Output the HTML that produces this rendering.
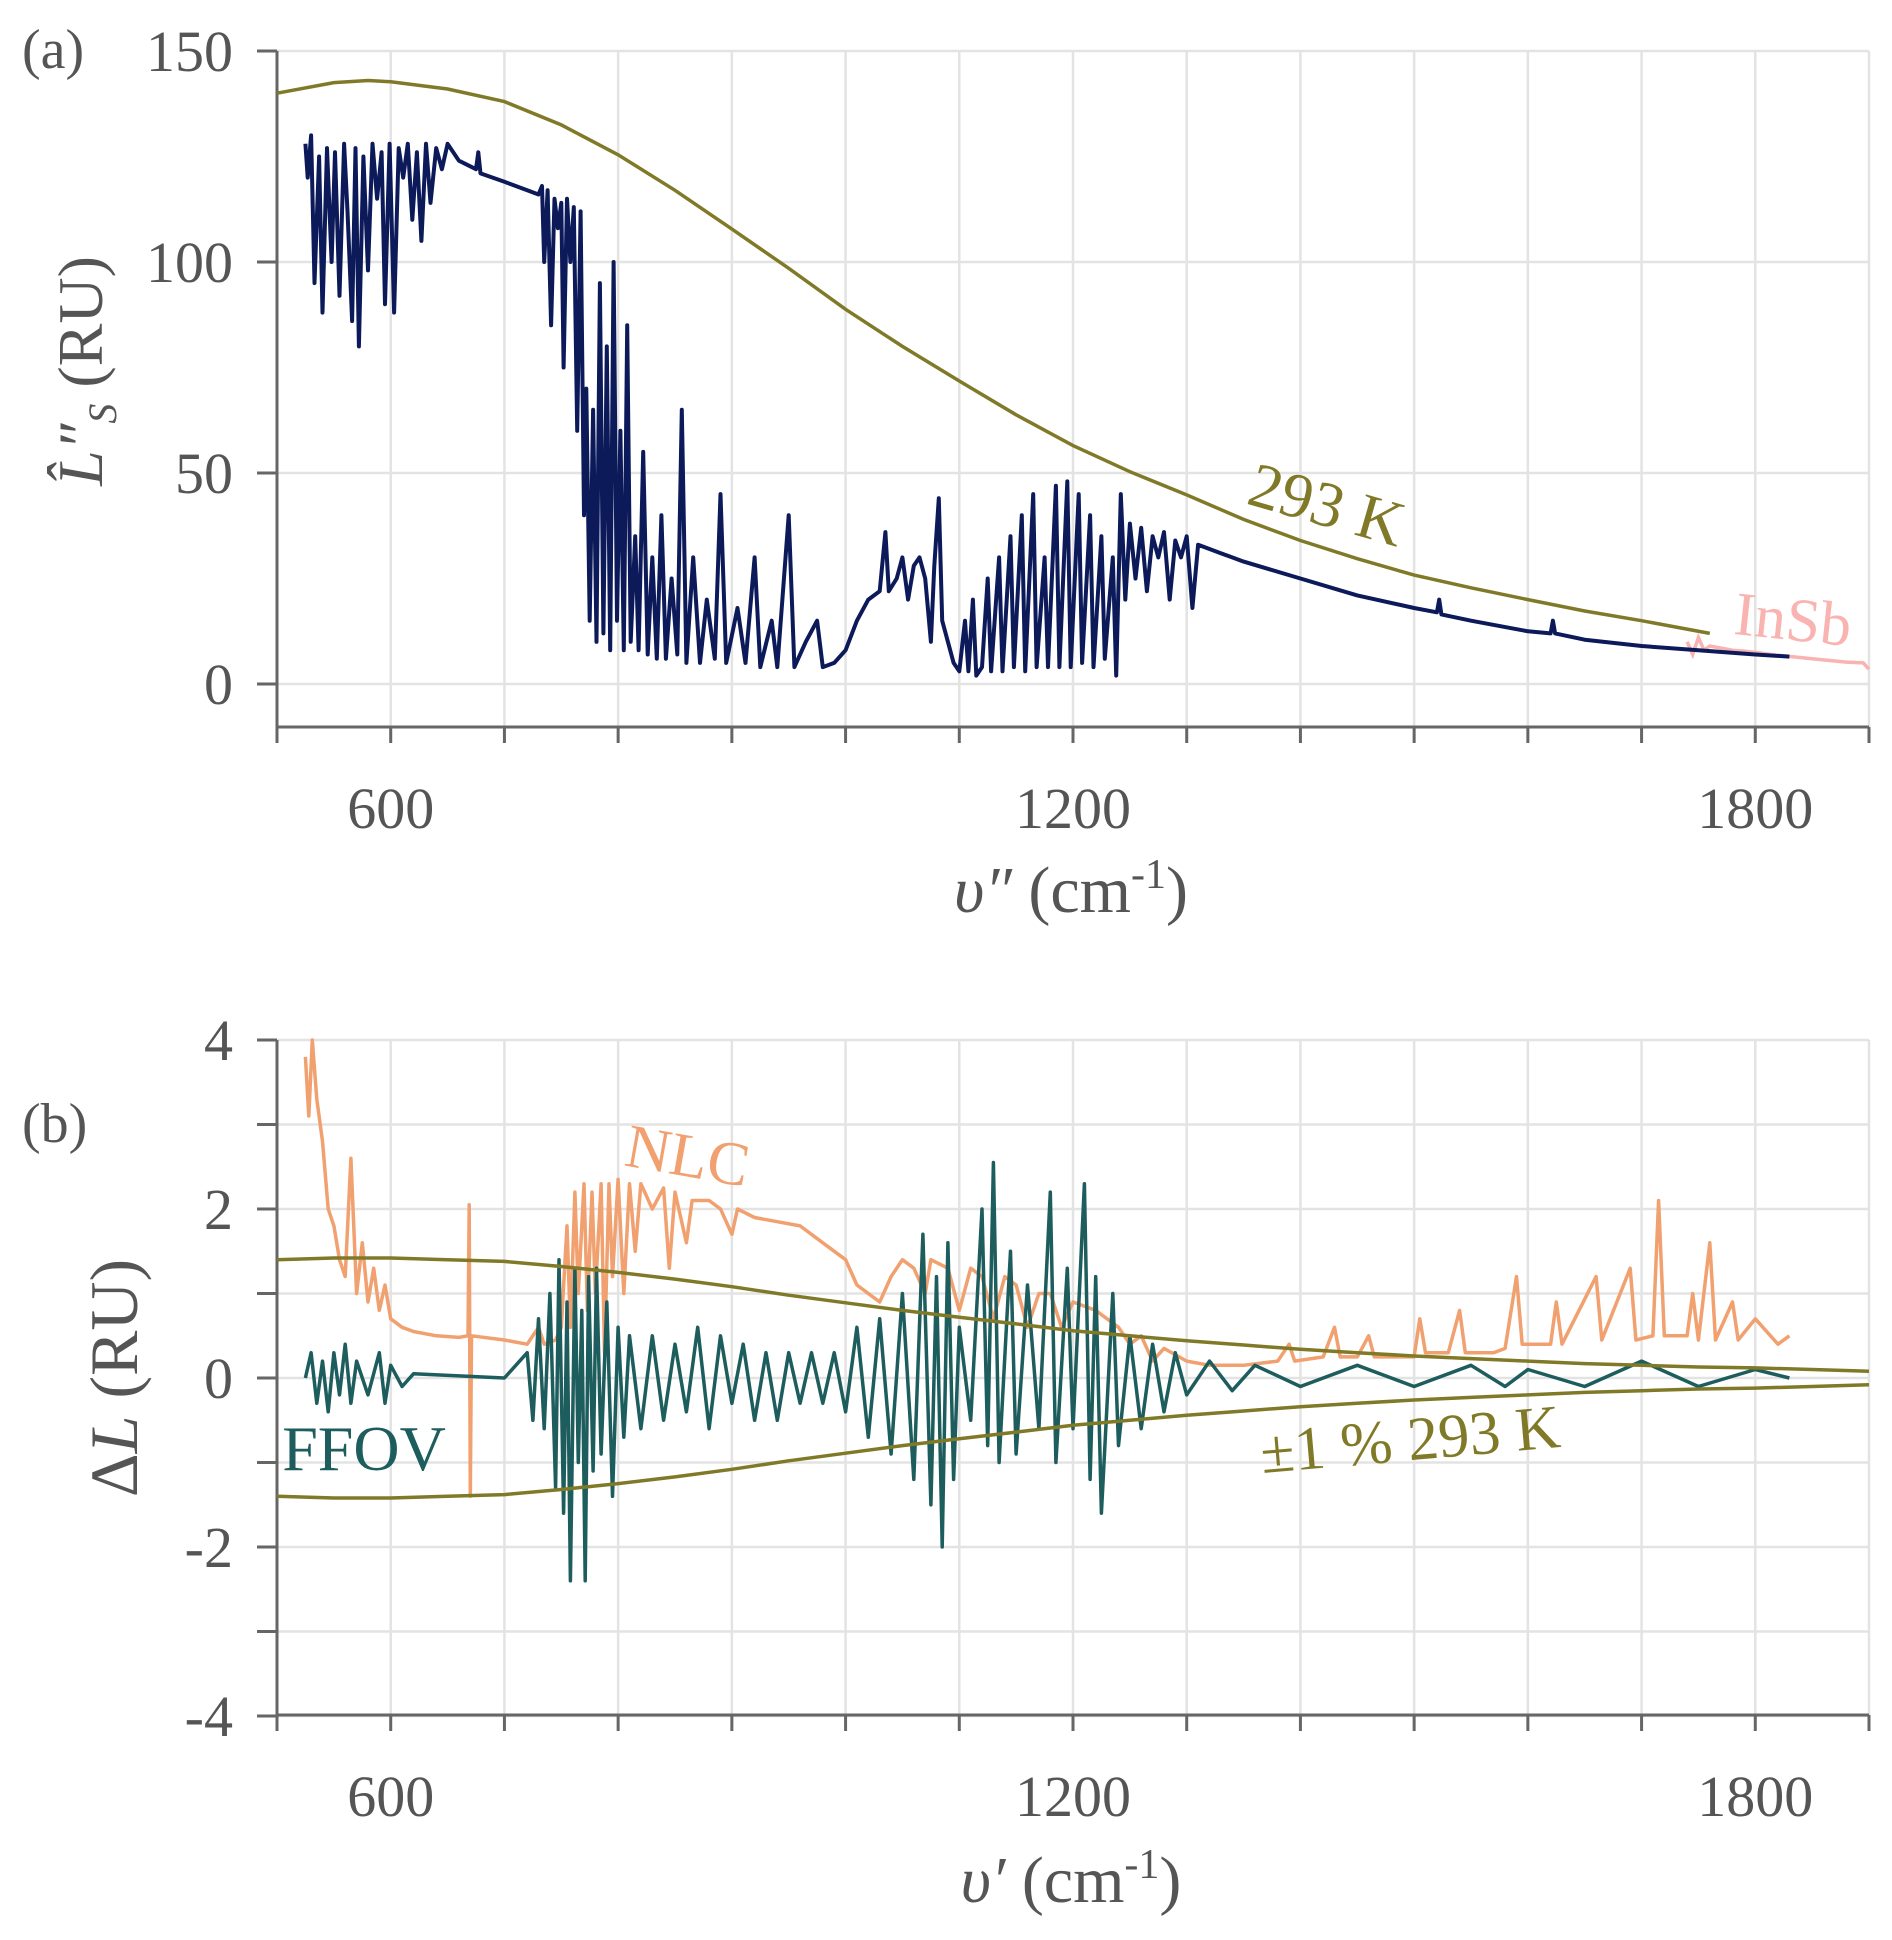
<!DOCTYPE html>
<html><head><meta charset="utf-8">
<style>
html,body{margin:0;padding:0;background:#fff;}
svg{display:block;}
text{font-family:"Liberation Serif","DejaVu Serif",serif;}
</style></head>
<body>
<svg id="fig" width="1892" height="1940" viewBox="0 0 1892 1940" xmlns="http://www.w3.org/2000/svg">
<g id="pa"></g>
<g id="pb"></g>
</svg>
<script>
// ---- data ----
const xTicks = [600, 1200, 1800];
const xGrid = [500,600,700,800,900,1000,1100,1200,1300,1400,1500,1600,1700,1800,1900];
const aYTicks = [0, 50, 100, 150];
const bYTicks = [-4, -2, 0, 2, 4];
const bYGrid = [-4,-3,-2,-1,0,1,2,3,4];

const planckX = [500,550,580,600,650,700,750,800,850,900,950,1000,1050,1100,1150,1200,1250,1300,1350,1400,1450,1500,1550,1600,1650,1700,1760];
const planckY = [140,142.5,143,142.7,141,138,132.5,125.4,117,107.8,98.5,88.8,80,71.8,63.8,56.5,50.3,44.8,39,34,29.7,25.8,22.8,20,17.3,15,12];

const bandX = [500,550,600,650,700,750,800,850,900,950,1000,1050,1100,1150,1200,1250,1300,1350,1400,1450,1500,1550,1600,1650,1700,1750,1800,1850,1900];
const bandY = [1.40,1.42,1.42,1.40,1.38,1.32,1.25,1.17,1.08,0.98,0.89,0.80,0.72,0.64,0.56,0.50,0.44,0.39,0.34,0.30,0.26,0.23,0.20,0.17,0.15,0.13,0.12,0.10,0.08];

const navyX = [525,527,530,533,537,540,544,548,551,555,559,562,566,569,572,576,580,584,588,592,595,599,603,607,611,615,619,623,627,631,635,640,645,650,660,675,677,679,700,720,730,733,735,738,741,744,747,750,752,755,758,761,764,767,770,772,775,778,781,784,787,790,793,796,799,802,805,808,811,815,818,822,826,830,834,838,842,847,852,856,860,866,872,878,885,890,895,905,912,920,925,935,940,950,955,965,975,980,990,1000,1010,1020,1030,1035,1038,1045,1050,1055,1060,1065,1070,1075,1078,1082,1085,1090,1095,1100,1105,1108,1112,1115,1120,1125,1128,1135,1138,1145,1148,1155,1158,1165,1168,1175,1178,1185,1188,1195,1198,1205,1208,1215,1218,1225,1228,1235,1238,1242,1246,1250,1255,1260,1265,1270,1275,1280,1285,1290,1295,1300,1305,1310,1320,1330,1340,1350,1400,1450,1500,1520,1522,1524,1550,1600,1620,1622,1624,1650,1700,1750,1800,1830];
const navyY = [128,120,130,95,125,88,127,100,126,92,128,112,86,127,80,125,98,128,115,126,90,128,88,127,120,128,110,126,105,128,114,127,122,128,124,122,126,121,119,117,116,118,100,117,85,115,108,114,75,115,100,113,60,112,40,70,15,65,10,95,12,80,8,100,15,60,8,85,10,35,8,55,7,30,6,40,6,25,7,65,5,30,5,20,6,45,5,18,5,30,4,15,4,40,4,10,15,4,5,8,15,20,22,36,22,25,30,20,28,30,25,10,28,44,15,10,5,3,15,3,20,2,4,25,3,30,3,35,4,40,3,45,4,30,4,47,4,48,4,45,5,40,4,35,6,30,2,45,20,38,25,37,22,35,30,36,20,34,30,35,18,33,32,31,30,29,25,21,18,17,20,16.5,15,12.5,12,15,12,10.5,9,8,7,6.5];

const insbX = [1740,1745,1750,1755,1760,1770,1780,1790,1800,1820,1850,1880,1895,1900];
const insbY = [10,7,11,8,9,8.5,8,7.8,7.5,6.8,6,5.2,5,3.5];

const nlcX = [525,528,531,535,540,545,550,555,560,565,570,575,580,585,590,595,600,610,620,640,660,668,669,670,671,700,720,730,735,745,750,755,758,762,765,770,773,777,780,785,788,792,795,800,805,810,815,820,830,840,845,850,860,865,880,890,900,905,920,940,960,980,1000,1010,1020,1030,1040,1050,1060,1070,1075,1090,1100,1110,1120,1130,1140,1150,1160,1170,1180,1190,1200,1220,1240,1250,1260,1270,1280,1300,1320,1350,1380,1390,1395,1420,1430,1435,1450,1460,1465,1500,1505,1510,1530,1540,1545,1570,1580,1590,1595,1620,1625,1630,1660,1665,1690,1695,1710,1715,1720,1740,1745,1750,1760,1765,1780,1785,1800,1820,1830];
const nlcY = [3.8,3.1,4.0,3.3,2.8,2.0,1.8,1.4,1.2,2.6,1.0,1.6,0.9,1.3,0.8,1.1,0.7,0.6,0.55,0.5,0.48,0.5,2.05,-1.4,0.5,0.45,0.4,0.6,0.4,0.45,0.6,1.8,0.6,2.2,1.0,2.3,0.8,2.2,1.0,2.3,0.3,2.3,1.2,2.35,1.0,2.3,1.5,2.3,2.0,2.25,1.3,2.2,1.6,2.1,2.1,2.0,1.7,2.0,1.9,1.85,1.8,1.6,1.4,1.1,1.0,0.9,1.2,1.4,1.3,1.0,1.4,1.3,0.8,1.3,1.2,0.7,1.2,1.1,0.6,1.0,1.0,0.6,0.9,0.8,0.6,0.4,0.5,0.2,0.35,0.2,0.15,0.15,0.2,0.4,0.2,0.25,0.6,0.25,0.25,0.5,0.25,0.25,0.7,0.3,0.3,0.8,0.3,0.3,0.35,1.2,0.4,0.4,0.9,0.4,1.2,0.45,1.3,0.45,0.5,2.1,0.5,0.5,1.0,0.45,1.6,0.45,0.9,0.45,0.7,0.4,0.5];

const ffovX = [525,530,535,540,545,550,555,560,565,570,580,590,595,600,610,620,700,720,725,730,735,740,745,748,752,755,758,762,765,768,771,774,778,781,785,790,795,800,805,810,820,830,840,850,860,870,880,890,900,910,920,930,940,950,960,970,980,990,1000,1010,1020,1030,1040,1050,1060,1068,1075,1080,1085,1090,1095,1100,1110,1120,1125,1130,1135,1145,1150,1160,1170,1180,1185,1195,1200,1210,1215,1220,1225,1235,1240,1250,1260,1270,1280,1290,1300,1320,1340,1360,1400,1450,1500,1550,1580,1600,1650,1700,1750,1800,1830];
const ffovY = [0,0.3,-0.3,0.2,-0.4,0.3,-0.2,0.4,-0.3,0.2,-0.2,0.3,-0.3,0.15,-0.1,0.05,0,0.3,-0.5,0.7,-0.6,1.0,-1.3,1.4,-1.6,0.9,-2.4,1.3,-1.0,0.8,-2.4,1.2,-1.1,1.3,-0.9,0.9,-1.4,0.6,-0.7,0.5,-0.6,0.5,-0.5,0.4,-0.4,0.6,-0.6,0.5,-0.3,0.4,-0.5,0.3,-0.5,0.3,-0.3,0.3,-0.3,0.3,-0.4,0.6,-0.7,0.7,-0.9,1.0,-1.2,1.7,-1.5,1.2,-2.0,1.6,-1.2,0.6,-0.5,2.0,-0.8,2.55,-1.0,1.5,-0.9,1.1,-0.6,2.2,-1.0,1.3,-0.6,2.3,-1.2,1.2,-1.6,1.0,-0.8,0.5,-0.6,0.4,-0.4,0.3,-0.2,0.2,-0.15,0.15,-0.1,0.15,-0.1,0.15,-0.1,0.1,-0.1,0.2,-0.1,0.1,0.0];

// ---- axes ----
const NS = "http://www.w3.org/2000/svg";
const X0 = 277, X1 = 1869, XMIN = 500, XMAX = 1900;
function xs(v){ return X0 + (v - XMIN) / (XMAX - XMIN) * (X1 - X0); }
function yA(v){ return 684 - v * (684 - 51) / 150; }
function yB(v){ return 1378 - v * (1378 - 1040) / 4; }

function mk(parent, tag, attrs, name, text){
  const el = document.createElementNS(NS, tag);
  for (const k in attrs) el.setAttribute(k, attrs[k]);
  
  
  if (text !== undefined) el.textContent = text;
  parent.appendChild(el);
  return el;
}
function path(xa, ya, yf){
  let d = '';
  for (let i = 0; i < xa.length; i++) d += (i ? 'L' : 'M') + xs(xa[i]).toFixed(1) + ',' + yf(ya[i]).toFixed(1);
  return d;
}

function panel(g, yf, yTop, yBot, ticks, grid, minor, labelFmt){
  grid.forEach(v => mk(g, 'line', {x1:X0, x2:X1, y1:yf(v), y2:yf(v), stroke:'#e3e3e3', 'stroke-width':2.5}, 'y-gridline'));
  xGrid.forEach(v => mk(g, 'line', {x1:xs(v), x2:xs(v), y1:yTop, y2:yBot, stroke:'#e3e3e3', 'stroke-width':2.5}, 'x-gridline'));
  mk(g, 'line', {x1:X0, x2:X0, y1:yTop, y2:yBot, stroke:'#666', 'stroke-width':3}, 'y-axis-line');
  mk(g, 'line', {x1:X0, x2:X1, y1:yBot, y2:yBot, stroke:'#666', 'stroke-width':3}, 'x-axis-line');
  xGrid.forEach(v => mk(g, 'line', {x1:xs(v), x2:xs(v), y1:yBot, y2:yBot+16, stroke:'#666', 'stroke-width':3}, 'x-tick'));
  minor.forEach(v => mk(g, 'line', {x1:X0-20, x2:X0, y1:yf(v), y2:yf(v), stroke:'#666', 'stroke-width':3}, 'y-tick'));
  xTicks.forEach(v => mk(g, 'text', {x:xs(v), y:yBot+101, 'text-anchor':'middle', 'font-size':58, fill:'#555'}, 'x-tick-label', String(v)));
  ticks.forEach(v => mk(g, 'text', {x:X0-44, y:yf(v)+20, 'text-anchor':'end', 'font-size':58, fill:'#555'}, 'y-tick-label', labelFmt(v)));
}

const pa = document.getElementById('pa');
const pb = document.getElementById('pb');
panel(pa, yA, 51, 727, aYTicks, aYTicks, [0,50,100,150], v => String(v));
panel(pb, yB, 1040, 1715, bYTicks, bYGrid, bYGrid, v => String(v));

// ---- panel a series ----
mk(pa, 'path', {d:path(insbX, insbY, yA), fill:'none', stroke:'#f9b3b0', 'stroke-width':3.5}, 'insb-spectrum');
mk(pa, 'path', {d:path(navyX, navyY, yA), fill:'none', stroke:'#0c1a5a', 'stroke-width':4, 'stroke-linejoin':'round'}, 'measured-spectrum');
mk(pa, 'path', {d:path(planckX, planckY, yA), fill:'none', stroke:'#807a28', 'stroke-width':3.5}, 'planck-293k-curve');

// ---- panel b series ----
mk(pb, 'path', {d:path(nlcX, nlcY, yB), fill:'none', stroke:'#f1a06f', 'stroke-width':3.5, 'stroke-linejoin':'round'}, 'nlc-series');
mk(pb, 'path', {d:path(ffovX, ffovY, yB), fill:'none', stroke:'#1e5d5d', 'stroke-width':3.5, 'stroke-linejoin':'round'}, 'ffov-series');
mk(pb, 'path', {d:path(bandX, bandY, yB), fill:'none', stroke:'#807a28', 'stroke-width':3.5}, 'upper-band');
mk(pb, 'path', {d:path(bandX, bandY.map(v => -v), yB), fill:'none', stroke:'#807a28', 'stroke-width':3.5}, 'lower-band');

// ---- labels ----
const fig = document.getElementById('fig');
mk(fig, 'text', {x:22, y:68, 'font-size':56, fill:'#555'}, 'panel-a-label', '(a)');
mk(fig, 'text', {x:22, y:1142, 'font-size':56, fill:'#555'}, 'panel-b-label', '(b)');

let t = mk(fig, 'text', {x:1071, y:912, 'text-anchor':'middle', 'font-size':66, fill:'#555'}, 'x-axis-title-a');
t.innerHTML = '<tspan font-style="italic">υ″</tspan> (cm<tspan dy="-24" font-size="42">-1</tspan><tspan dy="24">)</tspan>';
t = mk(fig, 'text', {x:1071, y:1902, 'text-anchor':'middle', 'font-size':66, fill:'#555'}, 'x-axis-title-b');
t.innerHTML = '<tspan font-style="italic">υ′</tspan> (cm<tspan dy="-24" font-size="42">-1</tspan><tspan dy="24">)</tspan>';
t = mk(fig, 'text', {x:0, y:0, 'text-anchor':'middle', 'font-size':64, fill:'#555', transform:'translate(102,371) rotate(-90)'}, 'y-axis-title-a');
t.innerHTML = '<tspan font-style="italic">L̂″</tspan><tspan font-style="italic" font-size="40" dy="14">S</tspan><tspan dy="-14"> (RU)</tspan>';
t = mk(fig, 'text', {x:0, y:0, 'text-anchor':'middle', 'font-size':68, fill:'#555', transform:'translate(137,1378) rotate(-90)'}, 'y-axis-title-b');
t.innerHTML = 'Δ<tspan font-style="italic">L</tspan> (RU)';

mk(fig, 'text', {x:0, y:0, 'text-anchor':'middle', 'font-size':64, fill:'#807a28', transform:'translate(1321,525) rotate(16)'}, 'planck-annotation', '293 K');
mk(fig, 'text', {x:0, y:0, 'text-anchor':'middle', 'font-size':62, fill:'#f9b3b0', transform:'translate(1791,640) rotate(6)'}, 'insb-annotation', 'InSb');
mk(fig, 'text', {x:0, y:0, 'text-anchor':'middle', 'font-size':62, fill:'#f1a06f', transform:'translate(684,1176) rotate(10)'}, 'nlc-annotation', 'NLC');
mk(fig, 'text', {x:364, y:1470, 'text-anchor':'middle', 'font-size':64, fill:'#1e5d5d'}, 'ffov-annotation', 'FFOV');
mk(fig, 'text', {x:0, y:0, 'text-anchor':'middle', 'font-size':62, fill:'#807a28', transform:'translate(1412,1460) rotate(-5)'}, 'band-annotation', '±1 % 293 K');
</script>
</body></html>
